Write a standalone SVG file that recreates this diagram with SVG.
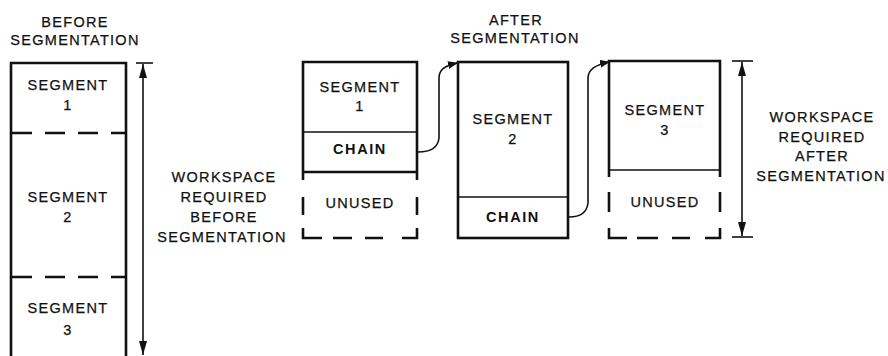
<svg xmlns="http://www.w3.org/2000/svg" width="888" height="356" viewBox="0 0 888 356">
<style>
text{font-family:"Liberation Sans",Arial,sans-serif;font-size:14.5px;letter-spacing:1.3px;text-anchor:middle;fill:#111;stroke:#111;stroke-width:0.25}
text.b{font-weight:bold;letter-spacing:1.6px;stroke:none}
.box{fill:none;stroke:#111;stroke-width:2.6}
.thin{fill:none;stroke:#111;stroke-width:1.6}
.dash{fill:none;stroke:#111;stroke-width:2.4;stroke-dasharray:20 13}
.con{fill:none;stroke:#111;stroke-width:1.6}
</style>
<defs>
<marker id="ah" markerWidth="10" markerHeight="8" refX="9" refY="4" orient="auto" markerUnits="userSpaceOnUse">
<path d="M0,0 L10,4 L0,8 Z" fill="#111"/>
</marker>
<marker id="dim" markerWidth="14" markerHeight="8" refX="0" refY="0" orient="auto-start-reverse" markerUnits="userSpaceOnUse" viewBox="-14 -4 14 8">
<path d="M0,0 L-14,-4 L-14,4 Z" fill="#111"/>
</marker>
</defs>

<g id="before">
<text x="75" y="27">BEFORE</text>
<text x="75" y="45">SEGMENTATION</text>
<path class="box" d="M11,356 V63 H126 V356"/>
<line class="dash" x1="12" y1="133" x2="126" y2="133"/>
<line class="dash" x1="12" y1="277" x2="126" y2="277"/>
<text x="68" y="90">SEGMENT</text>
<text x="68" y="110">1</text>
<text x="68" y="202">SEGMENT</text>
<text x="68" y="222">2</text>
<text x="68" y="313">SEGMENT</text>
<text x="68" y="335">3</text>
</g>

<g id="dim-before">
<line class="thin" x1="136" y1="63" x2="153" y2="63"/>
<line class="thin" x1="143" y1="64" x2="143" y2="355" marker-start="url(#dim)" marker-end="url(#dim)"/>
<text x="224" y="182">WORKSPACE</text>
<text x="224" y="202">REQUIRED</text>
<text x="224" y="222">BEFORE</text>
<text x="222" y="242">SEGMENTATION</text>
</g>

<g id="after-title">
<text x="516" y="25">AFTER</text>
<text x="515" y="43">SEGMENTATION</text>
</g>

<g id="seg1">
<path class="box" d="M303,180 V62 H417 V180"/>
<line class="thin" x1="303" y1="132" x2="417" y2="132"/>
<line class="box" x1="303" y1="172" x2="417" y2="172"/>
<path class="box" d="M303,197 V215 M417,197 V215 M303,228 V238 H322 M333,238 H352 M365,238 H383 M402,238 H417 V228"/>
<text x="360" y="92">SEGMENT</text>
<text x="360" y="111">1</text>
<text class="b" x="360" y="154">CHAIN</text>
<text x="360" y="208">UNUSED</text>
</g>

<g id="seg2">
<rect class="box" x="458" y="62" width="110" height="176"/>
<line class="thin" x1="458" y1="197" x2="568" y2="197"/>
<text x="513" y="124">SEGMENT</text>
<text x="513" y="144">2</text>
<text class="b" x="513" y="222">CHAIN</text>
</g>

<g id="seg3">
<path class="box" d="M609,177 V61 H720 V177"/>
<line class="thin" x1="609" y1="170" x2="720" y2="170"/>
<path class="box" d="M609,192 V212 M720,192 V212 M609,228 V238 H627 M637,238 H658 M672,238 H690 M705,238 H720 V228"/>
<text x="665" y="115">SEGMENT</text>
<text x="665" y="135">3</text>
<text x="665" y="207">UNUSED</text>
</g>

<g id="dim-after">
<line class="thin" x1="732" y1="61" x2="753" y2="61"/>
<line class="thin" x1="732" y1="237" x2="753" y2="237"/>
<line class="thin" x1="742" y1="62" x2="742" y2="236" marker-start="url(#dim)" marker-end="url(#dim)"/>
<text x="822" y="122">WORKSPACE</text>
<text x="822" y="142">REQUIRED</text>
<text x="822" y="161">AFTER</text>
<text x="821" y="181">SEGMENTATION</text>
</g>

<g id="connectors">
<path class="con" d="M418,152 C430,152 438,148 439,138 L439,78 C439,70 444,66 457,63" marker-end="url(#ah)"/>
<path class="con" d="M569,217 C581,217 587,212 588,203 L588,78 C588,70 594,65 609,62" marker-end="url(#ah)"/>
</g>
</svg>
